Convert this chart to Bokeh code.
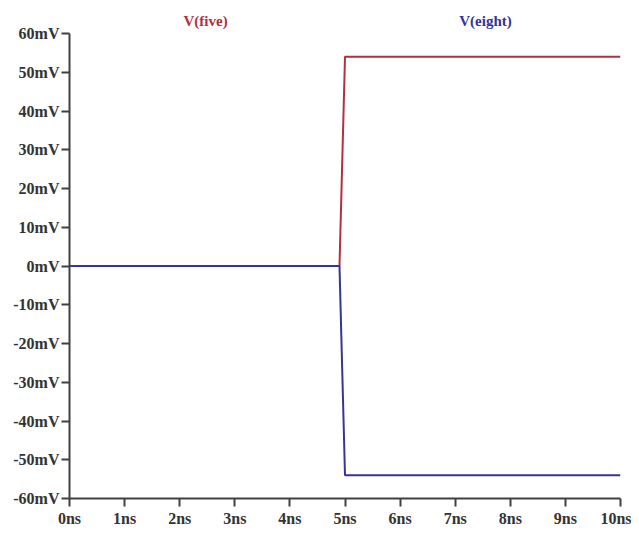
from bokeh.plotting import figure
from bokeh.models import Range1d, FixedTicker, Label
from bokeh.embed import file_html
from bokeh.resources import INLINE

# data
time_ns = [0.0, 4.9, 5.0, 10.0]
v_five = [0.0, 0.0, 54.0, 54.0]
v_eight = [0.0, 0.0, -54.0, -54.0]
y_ticks = [-60, -50, -40, -30, -20, -10, 0, 10, 20, 30, 40, 50, 60]
y_tick_labels = [f"{v}mV" for v in y_ticks]
x_ticks = [0, 1, 2, 3, 4, 5, 6, 7, 8, 9, 10]
x_tick_labels = [f"{v}ns" for v in x_ticks]
series_names = ["V(five)", "V(eight)"]
series_colors = ["#b03040", "#34349a"]

W, H = 631, 529
BL, BR, BT, BB = 69, 11, 3, 31
# frame extends above 60 mV to host the trace names; axis limited by bounds
px_per_mv = (H - BB - 33) / 120.0
y_top = 60 + (33 - BT) / px_per_mv
p = figure(width=W, height=H, output_backend="svg", toolbar_location=None,
           x_range=Range1d(0, 10), y_range=Range1d(-60, y_top),
           min_border_left=BL, min_border_right=BR, min_border_top=BT, min_border_bottom=BB)
p.outline_line_color = None
p.grid.visible = False
p.background_fill_color = "white"
p.border_fill_color = "white"

p.line(time_ns, v_five, line_color=series_colors[0], line_width=2)
p.line(time_ns, v_eight, line_color=series_colors[1], line_width=2)

p.xaxis.ticker = FixedTicker(ticks=x_ticks)
p.xaxis.major_label_overrides = {t: l for t, l in zip(x_ticks, x_tick_labels)}
p.yaxis.ticker = FixedTicker(ticks=y_ticks)
p.yaxis.major_label_overrides = {t: l for t, l in zip(y_ticks, y_tick_labels)}
p.yaxis.bounds = (y_ticks[0], y_ticks[-1])

for ax in (p.xaxis, p.yaxis):
    ax.axis_line_color = "#404040"
    ax.axis_line_width = 2
    ax.major_tick_line_color = "#404040"
    ax.major_tick_line_width = 2
    ax.major_tick_out = 8
    ax.major_tick_in = 0
    ax.minor_tick_line_color = None
    ax.major_label_text_font = "Liberation Serif"
    ax.major_label_text_font_style = "bold"
    ax.major_label_text_font_size = "16px"
    ax.major_label_text_color = "#333333"
p.yaxis.major_label_standoff = 2
p.xaxis.major_label_standoff = 3

# trace names above the plot area
name_x = [2.47, 7.55]
name_y = 60 + 13 / px_per_mv
for name, color, xc in zip(series_names, series_colors, name_x):
    p.add_layout(Label(x=xc, y=name_y, x_units="data", y_units="data", text=name,
                       text_align="center", text_baseline="middle",
                       text_font="Liberation Serif", text_font_style="bold",
                       text_font_size="15px", text_color=color))

open("out.html", "w").write(file_html(p, INLINE))
